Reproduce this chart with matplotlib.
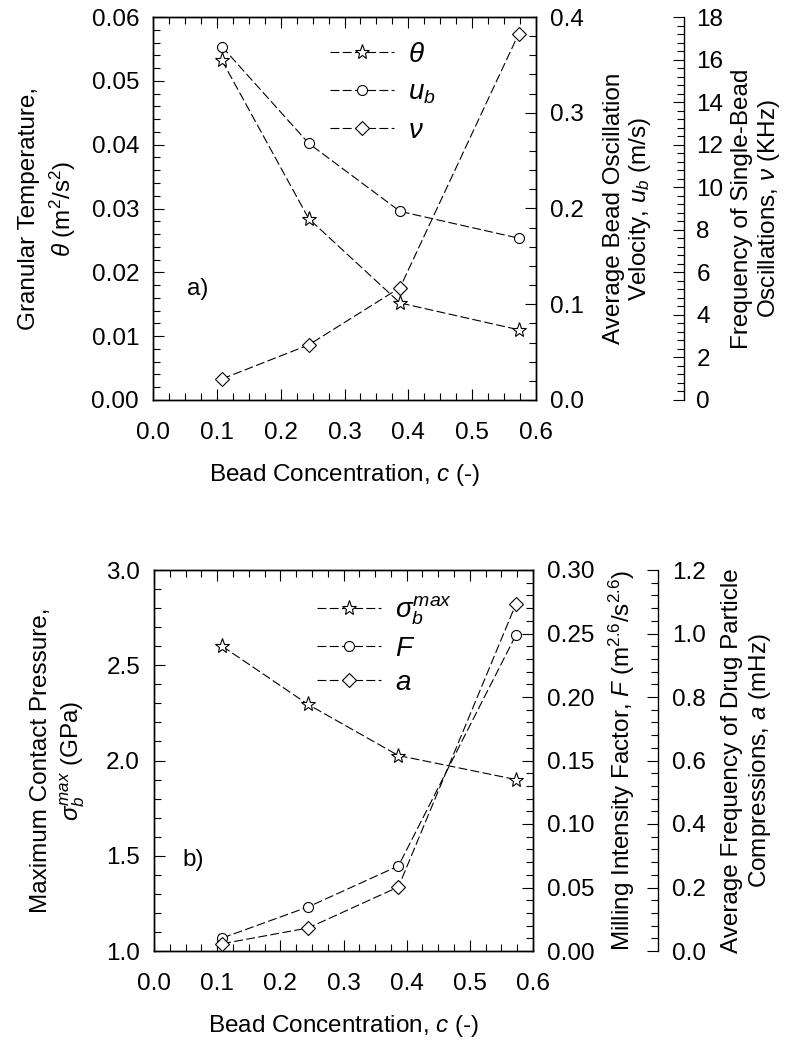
import matplotlib
matplotlib.use("Agg")
import matplotlib.pyplot as plt
from matplotlib.ticker import MultipleLocator, FormatStrFormatter

plt.rcParams['font.family'] = ['Liberation Sans', 'DejaVu Sans']
plt.rcParams['mathtext.fontset'] = 'custom'
plt.rcParams['mathtext.rm'] = 'Liberation Sans'
plt.rcParams['mathtext.it'] = 'Liberation Sans:italic'
plt.rcParams['mathtext.bf'] = 'Liberation Sans:bold'
FS = 17.5
plt.rcParams['font.size'] = FS

# ---- data ----
conc = [0.108, 0.244, 0.387, 0.573]
theta = [0.0532, 0.0284, 0.0152, 0.0110]
u_b = [0.369, 0.268, 0.197, 0.169]
nu = [0.99, 2.59, 5.28, 17.22]

sigma_max = [2.60, 2.294, 2.026, 1.900]
F_mill = [0.0102, 0.0347, 0.067, 0.2488]
a_freq = [0.023, 0.0725, 0.2018, 1.093]

W, H = 789, 1042
fig = plt.figure(figsize=(W / 100, H / 100), dpi=100)

LS = (0, (8, 3))
LW = 0.8


def style_tick(ax):
    ax.tick_params(which='both', direction='in', width=0.8, labelsize=FS)
    ax.tick_params(which='major', length=8)
    ax.tick_params(which='minor', length=5)


def make_panel(rect, third_offset, ylims, ymaj, ymin, yfmts, ylabels, data,
               labels, panel_tag, tag_pos, legend_anchor, legend_spacing,
               ylabel_pads, ypads, linespacings):
    ax = fig.add_axes(rect)
    ax2 = ax.twinx()
    ax3 = ax.twinx()
    ax3.spines['right'].set_position(('axes', third_offset))
    for s in ('left', 'top', 'bottom'):
        ax3.spines[s].set_visible(False)
    for a in (ax, ax2, ax3):
        for s in a.spines.values():
            s.set_linewidth(1.0)

    ax.set_xlim(0, 0.6)
    ax.xaxis.set_major_locator(MultipleLocator(0.1))
    ax.xaxis.set_minor_locator(MultipleLocator(0.025))
    ax.xaxis.set_major_formatter(FormatStrFormatter('%.1f'))

    axes = (ax, ax2, ax3)
    for i, a in enumerate(axes):
        a.set_ylim(*ylims[i])
        a.yaxis.set_major_locator(MultipleLocator(ymaj[i]))
        a.yaxis.set_minor_locator(MultipleLocator(ymin[i]))
        a.yaxis.set_major_formatter(FormatStrFormatter(yfmts[i]))
        style_tick(a)
    ax.tick_params(axis='x', which='both', top=True, bottom=True, pad=16)
    ax.tick_params(axis='y', which='both', left=True, right=False,
                   pad=ypads[0])
    ax2.tick_params(axis='y', which='both', right=True, pad=ypads[1])
    ax3.tick_params(axis='y', which='both', right=True, pad=ypads[2])

    markers = ['*', 'o', 'D']
    msizes = [11, 7.2, 6.8]
    handles = []
    for i, a in enumerate(axes):
        ln, = a.plot(conc, data[i], linestyle=LS, color='black', linewidth=LW,
                     marker=markers[i], markersize=msizes[i],
                     markerfacecolor='white', markeredgecolor='black',
                     markeredgewidth=0.8, clip_on=False)
        handles.append(ln)

    ax.set_xlabel('Bead Concentration, $c$ (-)', fontsize=FS, labelpad=13)
    for i, a in enumerate(axes):
        a.set_ylabel(ylabels[i], fontsize=FS, labelpad=ylabel_pads[i],
                     linespacing=linespacings[i])

    ax3.legend(handles, labels, loc='upper left', bbox_to_anchor=legend_anchor,
               frameon=False, fontsize=20, handlelength=2.3,
               handletextpad=0.5, labelspacing=legend_spacing,
               borderaxespad=0, borderpad=0)
    ax.text(tag_pos[0], tag_pos[1], panel_tag, transform=ax.transAxes,
            fontsize=FS, va='center', ha='left')
    return ax, ax2, ax3


# top panel
make_panel(
    rect=[153 / W, 1 - 400 / H, 383 / W, 383 / H],
    third_offset=1 + 148 / 383,
    ylims=[(0, 0.06), (0, 0.4), (0, 18)],
    ymaj=[0.01, 0.1, 2], ymin=[0.002, 0.02, 0.4],
    yfmts=['%.2f', '%.1f', '%d'],
    ylabels=['Granular Temperature,\n$\\theta$ (m$^2$/s$^2$)',
             'Average Bead Oscillation\nVelocity, $u_b$ (m/s)',
             'Frequency of Single-Bead\nOscillations, $\\nu$ (KHz)'],
    data=[theta, u_b, nu],
    labels=['$\\theta$', '$u_b$', '$\\nu$'],
    panel_tag='a)',
    tag_pos=(0.089, 0.29),
    legend_anchor=(0.462, 0.935),
    legend_spacing=0.42,
    ylabel_pads=[10, 14, 5],
    ypads=[10, 10, 9],
    linespacings=[1.3, 1.1, 1.2],
)

# bottom panel
make_panel(
    rect=[154 / W, 1 - 951 / H, 379 / W, 381 / H],
    third_offset=1 + 125 / 379,
    ylims=[(1.0, 3.0), (0, 0.30), (0, 1.2)],
    ymaj=[0.5, 0.05, 0.2], ymin=[0.1, 0.01, 0.04],
    yfmts=['%.1f', '%.2f', '%.1f'],
    ylabels=['Maximum Contact Pressure,\n$\\sigma_b^{max}$ (GPa)',
             'Milling Intensity Factor, $F$ (m$^{2.6}$/s$^{2.6}$)',
             'Average Frequency of Drug Particle\nCompressions, $a$ (mHz)'],
    data=[sigma_max, F_mill, a_freq],
    labels=['$\\sigma_b^{max}$', '$F$', '$a$'],
    panel_tag='b)',
    tag_pos=(0.074, 0.239),
    legend_anchor=(0.43, 0.935),
    legend_spacing=0.3,
    ylabel_pads=[14, 9, 11],
    ypads=[10, 10, 10],
    linespacings=[1.3, 1.05, 1.2],
)

fig.savefig('out.png', dpi=100)
